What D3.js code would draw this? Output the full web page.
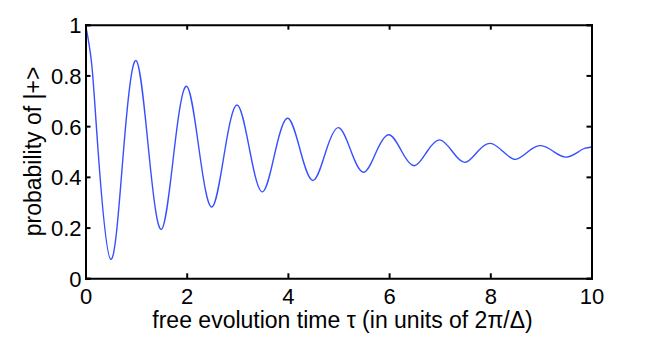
<!DOCTYPE html>
<html>
<head>
<meta charset="utf-8">
<script src="https://cdn.jsdelivr.net/npm/d3@7"></script>
<style>
  body { margin: 0; background: #fff; }
  text { font-family: "Liberation Sans", Arial, sans-serif; fill: #000; }
</style>
</head>
<body>
<div class="chart"></div>
<script>
// free evolution time (units of 2pi/Delta), read at extrema and 0.5 crossings
const tau = [0, 0.125, 0.25, 0.5, 0.75, 1, 1.25, 1.5, 1.75, 2, 2.25, 2.5, 2.75, 3, 3.25, 3.5, 3.75,
             4, 4.25, 4.5, 4.75, 5, 5.25, 5.5, 5.75, 6, 6.25, 6.5, 6.75, 7, 7.25, 7.5, 7.75,
             8, 8.25, 8.5, 8.75, 9, 9.25, 9.5, 9.75, 9.875, 10];
const prob = [1.0, 0.84, 0.5, 0.075, 0.5, 0.858, 0.5, 0.193, 0.5, 0.757, 0.5, 0.281, 0.5, 0.683, 0.5, 0.341, 0.5,
              0.631, 0.5, 0.386, 0.5, 0.594, 0.5, 0.418, 0.5, 0.566, 0.5, 0.444, 0.5, 0.546, 0.5, 0.457, 0.5,
              0.532, 0.5, 0.469, 0.5, 0.523, 0.5, 0.478, 0.5, 0.513, 0.518];
const xTicks = [0, 2, 4, 6, 8, 10];
const yTicks = [0, 0.2, 0.4, 0.6, 0.8, 1];

const width = 654, height = 338;
const margin = {left: 85.5, top: 24.7, right: 62.5, bottom: 59.7};
const w = width - margin.left - margin.right;
const h = height - margin.top - margin.bottom;

const svg = d3.select('.chart')
    .append('svg')
    .attr("width", width)
    .attr("height", height);

const x = d3.scaleLinear().domain([0, 10]).range([0, w]);
const y = d3.scaleLinear().domain([0, 1]).range([h, 0]);

const g = svg.append("g").attr("transform", `translate(${margin.left},${margin.top})`);

const data = tau.map((t, i) => ({t: t, p: prob[i]}));

const line = d3.line()
    .x(d => x(d.t))
    .y(d => y(d.p))
    .curve(d3.curveNatural);

g.append("path")
    .datum(data)
    .attr("fill", "none")
    .attr("stroke", "rgb(55,80,255)")
    .attr("stroke-width", 1.4)
    .attr("d", line);

// axes, MATLAB style: inward ticks on all four sides
const tl = 5;
const xb = g.append("g").attr("transform", `translate(0,${h})`)
    .call(d3.axisBottom(x).tickValues(xTicks).tickSize(-tl).tickPadding(10).tickFormat(d3.format("d")));
const xt = g.append("g")
    .call(d3.axisTop(x).tickValues(xTicks).tickSize(-tl).tickFormat(""));
const yl = g.append("g")
    .call(d3.axisLeft(y).tickValues(yTicks).tickSize(-tl).tickPadding(4).tickFormat(d => d === 0 || d === 1 ? d : d3.format(".1f")(d)));
const yr = g.append("g").attr("transform", `translate(${w},0)`)
    .call(d3.axisRight(y).tickValues(yTicks).tickSize(-tl).tickFormat(""));

[xb, xt, yl, yr].forEach(a => {
    a.select(".domain").attr("stroke", "#000").attr("stroke-width", 2);
    a.selectAll(".tick line").attr("stroke", "#000").attr("stroke-width", 2);
    a.selectAll("text").style("font-size", "22px").attr("fill", "#000");
});
yl.selectAll(".tick text").attr("dy", "0.36em");

svg.append("text")
    .attr("x", margin.left + w / 2 + 4)
    .attr("y", 328)
    .attr("text-anchor", "middle")
    .style("font-size", "23px")
    .text("free evolution time \u03C4 (in units of 2\u03C0/\u0394)");

svg.append("text")
    .attr("transform", `translate(41,${margin.top + h / 2}) rotate(-90)`)
    .attr("text-anchor", "middle")
    .style("font-size", "23px")
    .text("probability of |+>");
</script>
</body>
</html>
